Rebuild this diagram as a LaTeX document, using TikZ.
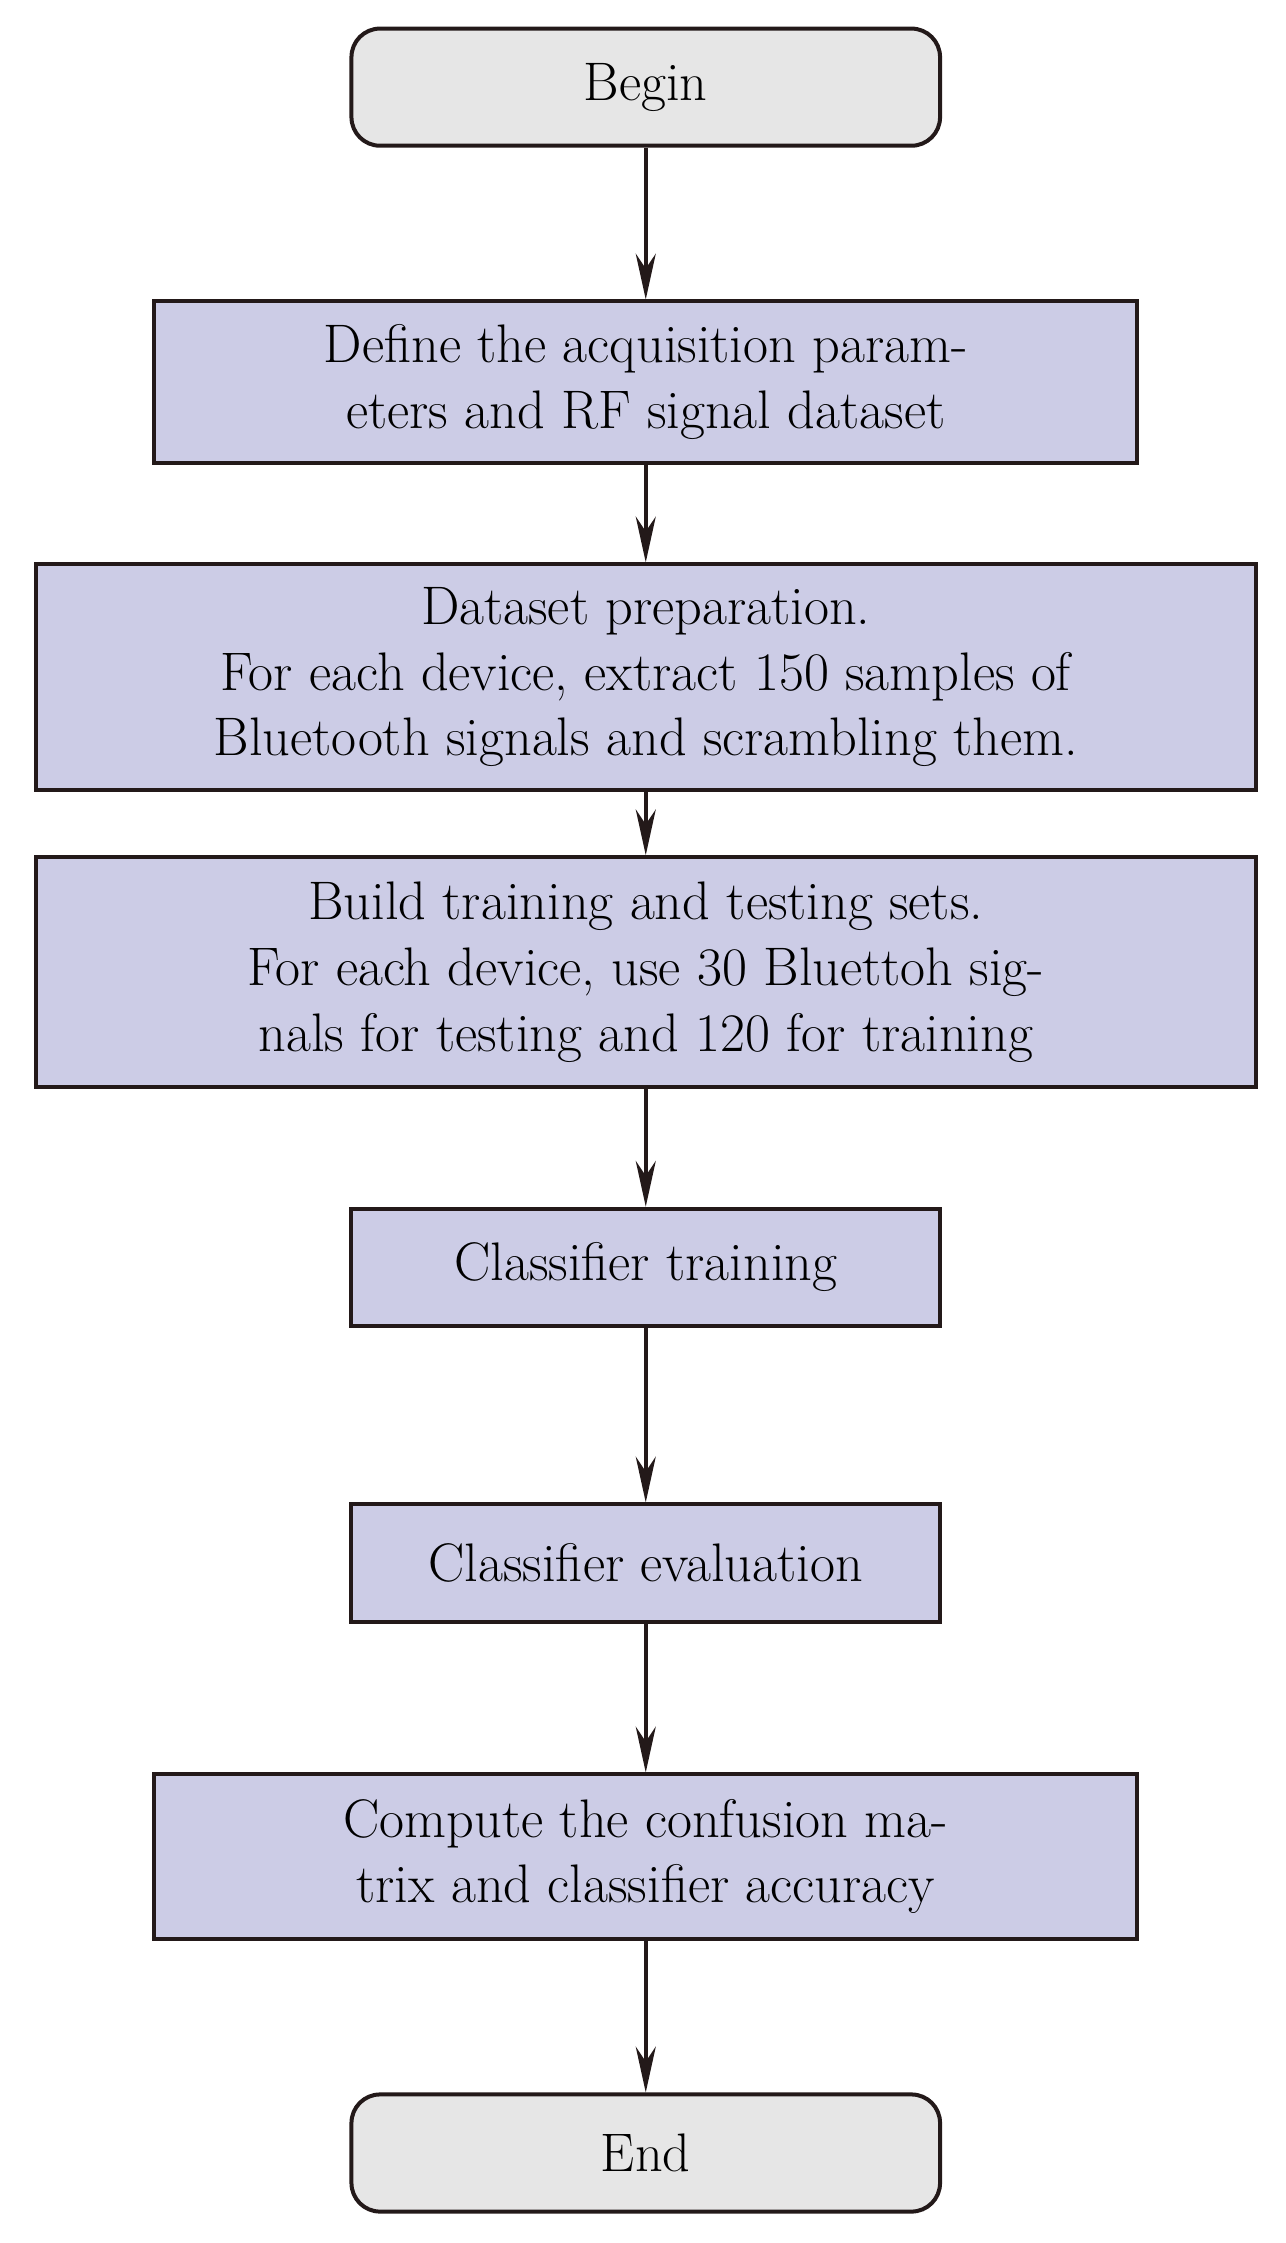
\documentclass[tikz,border=0pt]{standalone}
\usetikzlibrary{arrows.meta}
\definecolor{lav}{RGB}{204,204,230}
\definecolor{lg}{RGB}{230,230,230}
\definecolor{ln}{RGB}{35,25,25}
\begin{document}
\begin{tikzpicture}[x=0.5pt,y=-0.5pt,
  box/.style={draw=ln,line width=1.4pt,fill=lav,inner sep=0pt,align=center,font=\fontsize{19}{23}\selectfont},
  term/.style={box,fill=lg,rounded corners=10pt},
  arr/.style={draw=ln,line width=1.4pt,-{Stealth[length=16pt,width=7pt]}}]
\useasboundingbox (0,0) rectangle (900,1570);
\node[term,minimum width=206pt,minimum height=41pt] (b) at (452,61) {Begin};
\node[box,minimum width=344pt,minimum height=56.5pt] (d) at (452,267.5) {Define the acquisition param-\\eters and RF signal dataset};
\node[box,minimum width=427pt,minimum height=79pt] (p) at (452,474) {Dataset preparation.\\For each device, extract 150 samples of\\Bluetooth signals and scrambling them.};
\node[box,minimum width=427pt,minimum height=80.5pt] (s) at (452,680.5) {Build training and testing sets.\\For each device, use 30 Bluettoh sig-\\nals for testing and 120 for training};
\node[box,minimum width=206pt,minimum height=41pt] (t) at (452,887) {Classifier training};
\node[box,minimum width=206pt,minimum height=41pt] (e) at (452,1094) {Classifier evaluation};
\node[box,minimum width=344pt,minimum height=57.5pt] (c) at (452,1299.5) {Compute the confusion ma-\\trix and classifier accuracy};
\node[term,minimum width=206pt,minimum height=41pt] (n) at (452,1507) {End};
\foreach \a/\b in {b/d,d/p,p/s,s/t,t/e,e/c,c/n} \draw[arr] (\a) -- (\b);
\end{tikzpicture}
\end{document}
